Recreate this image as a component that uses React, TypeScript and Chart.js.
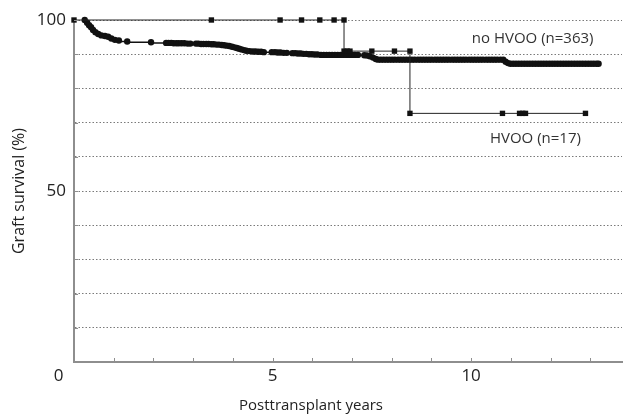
import React, { useEffect, useRef } from 'react';
import { Chart, registerables } from 'chart.js';

Chart.register(...registerables);

const FONT = '"Open Sans", "DejaVu Sans", sans-serif';

// HVOO group (n=17): Kaplan-Meier step points [years, survival %]
const hvooCurve: [number, number][] = [
  [0, 100], [3.46, 100], [5.19, 100], [5.73, 100], [6.19, 100], [6.55, 100], [6.8, 100],
  [6.8, 90.9], [6.88, 90.9], [6.95, 90.9], [7.5, 90.9], [8.07, 90.9], [8.46, 90.9],
  [8.46, 72.7], [10.79, 72.7], [11.22, 72.7], [11.3, 72.7], [11.37, 72.7], [12.88, 72.7],
];

// no HVOO group (n=363): Kaplan-Meier points [years, survival %]
const noHvooCurve: [number, number][] = [
  [0.27, 100], [0.33, 99.2], [0.38, 98.5], [0.43, 97.9], [0.48, 97.1], [0.54, 96.4],
  [0.61, 95.9], [0.69, 95.5], [0.78, 95.3], [0.86, 95.1], [0.94, 94.6], [1.03, 94.2],
  [1.13, 94.0], [1.34, 93.7], [1.94, 93.5],
  [2.32, 93.3], [2.38, 93.3], [2.45, 93.3], [2.51, 93.2], [2.58, 93.2], [2.64, 93.2],
  [2.71, 93.2], [2.78, 93.2], [2.86, 93.1], [2.93, 93.1],
  [3.07, 93.1], [3.13, 93.1], [3.2, 93.0], [3.26, 93.0], [3.33, 93.0], [3.39, 93.0],
  [3.46, 92.9], [3.52, 92.9], [3.59, 92.8], [3.65, 92.8], [3.72, 92.7], [3.78, 92.6],
  [3.85, 92.5], [3.91, 92.4], [3.98, 92.2],
  [4.04, 92.0], [4.1, 91.8], [4.16, 91.6], [4.22, 91.4], [4.28, 91.2], [4.34, 91.0],
  [4.42, 90.9], [4.5, 90.8], [4.57, 90.8], [4.64, 90.7], [4.71, 90.7], [4.78, 90.6],
  [4.98, 90.6], [5.06, 90.6], [5.13, 90.5], [5.2, 90.5], [5.28, 90.4], [5.36, 90.4],
  [5.5, 90.3], [5.57, 90.3], [5.64, 90.2], [5.71, 90.2], [5.78, 90.1], [5.85, 90.1],
  [5.92, 90.0], [5.99, 90.0], [6.06, 89.9], [6.13, 89.9],
  [6.22, 89.8], [6.29, 89.8], [6.36, 89.8], [6.43, 89.8], [6.5, 89.8], [6.57, 89.8],
  [6.64, 89.8], [6.71, 89.8], [6.78, 89.8], [6.86, 89.8], [6.93, 89.8], [7.0, 89.8],
  [7.07, 89.8], [7.15, 89.8],
  [7.31, 89.7], [7.38, 89.6], [7.45, 89.4], [7.53, 89.0], [7.6, 88.6],
  [7.66, 88.4], [7.73, 88.4], [7.8, 88.4], [7.87, 88.4], [7.94, 88.4], [8.01, 88.4],
  [8.08, 88.4], [8.16, 88.4], [8.23, 88.4], [8.3, 88.4], [8.37, 88.4], [8.44, 88.4],
  [8.51, 88.4], [8.58, 88.4], [8.66, 88.4], [8.73, 88.4], [8.8, 88.4], [8.87, 88.4],
  [8.94, 88.4], [9.01, 88.4], [9.09, 88.4], [9.16, 88.4], [9.23, 88.4], [9.3, 88.4],
  [9.37, 88.4], [9.44, 88.4], [9.52, 88.4], [9.59, 88.4], [9.66, 88.4], [9.73, 88.4],
  [9.8, 88.4], [9.87, 88.4], [9.95, 88.4], [10.02, 88.4], [10.09, 88.4], [10.16, 88.4],
  [10.23, 88.4], [10.3, 88.4], [10.38, 88.4], [10.45, 88.4], [10.52, 88.4], [10.59, 88.4],
  [10.66, 88.4], [10.74, 88.4], [10.81, 88.4], [10.87, 87.8], [10.93, 87.4],
  [10.99, 87.2], [11.06, 87.2], [11.13, 87.2], [11.2, 87.2], [11.27, 87.2], [11.34, 87.2],
  [11.41, 87.2], [11.48, 87.2], [11.55, 87.2], [11.62, 87.2], [11.69, 87.2], [11.76, 87.2],
  [11.83, 87.2], [11.9, 87.2], [11.97, 87.2], [12.04, 87.2], [12.11, 87.2], [12.18, 87.2],
  [12.25, 87.2], [12.32, 87.2], [12.39, 87.2], [12.46, 87.2], [12.53, 87.2], [12.6, 87.2],
  [12.67, 87.2], [12.74, 87.2], [12.81, 87.2], [12.88, 87.2], [12.95, 87.2], [13.02, 87.2],
  [13.09, 87.2], [13.16, 87.2], [13.21, 87.2],
];

// axis labels / ticks
const xLabelValues = [0, 5, 10];
const yLabelValues = [50, 100];
const xMinorTicks = [1, 2, 3, 4, 5, 6, 7, 8, 9, 10, 11, 12, 13];
const yMinorTicks = [10, 20, 30, 40, 50, 60, 70, 80, 90, 100];
const xTitle = 'Posttransplant years';
const yTitle = 'Graft survival (%)';

// curve annotations [text, years, survival %]
const annotations: [string, number, number][] = [
  ['no HVOO (n=363)', 11.55, 94.4],
  ['HVOO (n=17)', 11.62, 65.4],
];

const AXIS_COLOR = '#8e8e8e';

const innerTicksPlugin = {
  id: 'innerTicks',
  afterDraw(chart: any) {
    const { ctx, chartArea, scales } = chart;
    const x = scales.x;
    const y = scales.y;
    ctx.save();
    ctx.strokeStyle = AXIS_COLOR;
    ctx.lineWidth = 1;
    ctx.beginPath();
    for (const v of yMinorTicks) {
      const py = Math.round(y.getPixelForValue(v)) + 0.5;
      ctx.moveTo(chartArea.left, py);
      ctx.lineTo(chartArea.left + 4, py);
    }
    for (const v of xMinorTicks) {
      const px = Math.round(x.getPixelForValue(v)) + 0.5;
      ctx.moveTo(px, chartArea.bottom);
      ctx.lineTo(px, chartArea.bottom - 4);
    }
    ctx.stroke();
    ctx.restore();
  },
};

const annotationPlugin = {
  id: 'curveLabels',
  afterDatasetsDraw(chart: any) {
    const { ctx, scales } = chart;
    ctx.save();
    ctx.fillStyle = '#333';
    ctx.font = `15px ${FONT}`;
    ctx.textAlign = 'center';
    ctx.textBaseline = 'middle';
    for (const [text, tx, ty] of annotations) {
      ctx.fillText(text, scales.x.getPixelForValue(tx), scales.y.getPixelForValue(ty));
    }
    // x-axis title (centred under the original plot, left of the chart-area centre)
    ctx.fillStyle = '#222';
    ctx.font = `15px ${FONT}`;
    ctx.fillText(xTitle, 311, 406);
    ctx.restore();
  },
};

export default function App() {
  const canvasRef = useRef<HTMLCanvasElement | null>(null);

  useEffect(() => {
    if (!canvasRef.current) return;
    const chart = new Chart(canvasRef.current, {
      type: 'line',
      data: {
        datasets: [
          {
            label: 'HVOO',
            data: hvooCurve.map(([t, s]) => ({ x: t, y: s })),
            stepped: 'after',
            borderColor: '#222',
            borderWidth: 1,
            backgroundColor: '#111',
            pointStyle: 'rect',
            pointRadius: 3.8,
            pointBorderWidth: 0,
            pointBackgroundColor: '#111',
            fill: false,
            clip: 10,
            order: 0,
          },
          {
            label: 'no HVOO',
            data: noHvooCurve.map(([t, s]) => ({ x: t, y: s })),
            stepped: 'after',
            borderColor: '#111',
            borderWidth: 1.5,
            backgroundColor: '#111',
            pointStyle: 'circle',
            pointRadius: 3.2,
            pointBorderWidth: 0,
            pointBackgroundColor: '#111',
            fill: false,
            clip: 10,
            order: 1,
          },
        ],
      },
      options: {
        responsive: false,
        animation: false,
        events: [],
        layout: { padding: { top: 20, right: 0, bottom: 0, left: 0 } },
        plugins: {
          legend: { display: false },
          tooltip: { enabled: false },
        },
        scales: {
          x: {
            type: 'linear',
            min: 0,
            max: 13.8,
            afterFit: (scale: any) => {
              scale.height = 58;
            },
            ticks: {
              stepSize: 1,
              autoSkip: false,
              maxRotation: 0,
              padding: 4,
              color: '#222',
              font: { family: FONT, size: 17 },
              callback: (v: any) => {
                if (!xLabelValues.includes(v)) return '';
                return v === 0 ? '0       ' : String(v);
              },
            },
            grid: { display: false, drawTicks: false },
            border: { display: true, color: AXIS_COLOR, width: 2 },
            title: { display: false },
          },
          y: {
            type: 'linear',
            min: 0,
            max: 100,
            afterFit: (scale: any) => {
              scale.width = 74;
            },
            ticks: {
              stepSize: 10,
              autoSkip: false,
              padding: 8,
              color: '#222',
              font: { family: FONT, size: 17 },
              callback: (v: any) => (yLabelValues.includes(v) ? String(v) : ''),
            },
            grid: {
              drawTicks: false,
              color: (ctx: any) => (ctx.tick && ctx.tick.value === 0 ? 'rgba(0,0,0,0)' : '#7a7a7a'),
              lineWidth: 1,
            },
            border: { display: true, color: AXIS_COLOR, width: 2, dash: [1.5, 2] },
            title: {
              display: true,
              text: yTitle,
              color: '#222',
              font: { family: FONT, size: 16 },
              padding: { top: 10, bottom: 0 },
            },
          },
        },
      },
      plugins: [innerTicksPlugin, annotationPlugin],
    } as any);
    return () => chart.destroy();
  }, []);

  return (
    <div style={{ position: 'fixed', left: 0, top: 0, width: 626, height: 420, background: '#fff' }}>
      <canvas ref={canvasRef} width={626} height={420} style={{ display: 'block' }} />
    </div>
  );
}
